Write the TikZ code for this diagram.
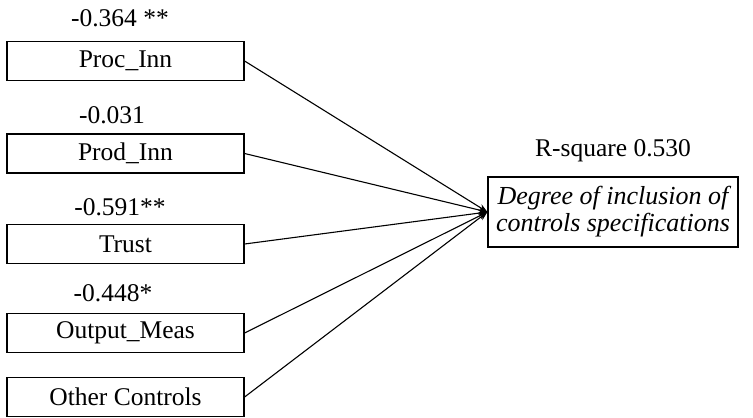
\documentclass[tikz,border=0pt]{standalone}
\usepackage{fontspec}
\setmainfont{Liberation Serif}
\usepackage{tikz}
\usetikzlibrary{arrows.meta, positioning}
\tikzset{
  >={Stealth[length=9pt,width=7pt]}, % filled arrow heads
  every node/.style={inner sep=1pt, font=\fontsize{25.5}{27}\selectfont},
  varbox/.style={draw, line width=1.2pt, minimum width=237pt, minimum height=39pt, inner sep=0pt}, % predictor boxes
  coef/.style={}, % path coefficients
}
\begin{document}
\begin{tikzpicture}[x=1pt, y=-1pt]
  \useasboundingbox (0,0) rectangle (753,418);
  \node[varbox] (proc) at (125.5,61) {Proc\_Inn};
  \node[varbox] (prod) at (125.5,153.5) {Prod\_Inn};
  \node[varbox] (trust) at (125.5,244) {Trust};
  \node[varbox] (outp) at (125.5,333) {Output\_Meas};
  \node[varbox] (other) at (125.5,397) {Other Controls};
  \node[draw, line width=1.2pt, minimum width=250pt, minimum height=70pt, align=center, font=\fontsize{26}{27}\selectfont\itshape] (dep) at (613,212) {Degree of inclusion of\\controls specifications};

  \node[coef] (cproc) at (120,18) {-0.364 **};
  \node[coef] (cprod) at (112,115) {-0.031};
  \node[coef] (ctrust) at (120,207) {-0.591**};
  \node[coef] (coutp) at (113,293) {-0.448*};
  \node[coef, above=13pt of dep] (rsq) {R-square 0.530};

  \path[->, line width=1.1pt]
  (proc.east) edge (dep.west)
  (prod.east) edge (dep.west)
  (trust.east) edge (dep.west)
  (outp.east) edge (dep.west)
  (other.east) edge (dep.west);
\end{tikzpicture}
\end{document}
